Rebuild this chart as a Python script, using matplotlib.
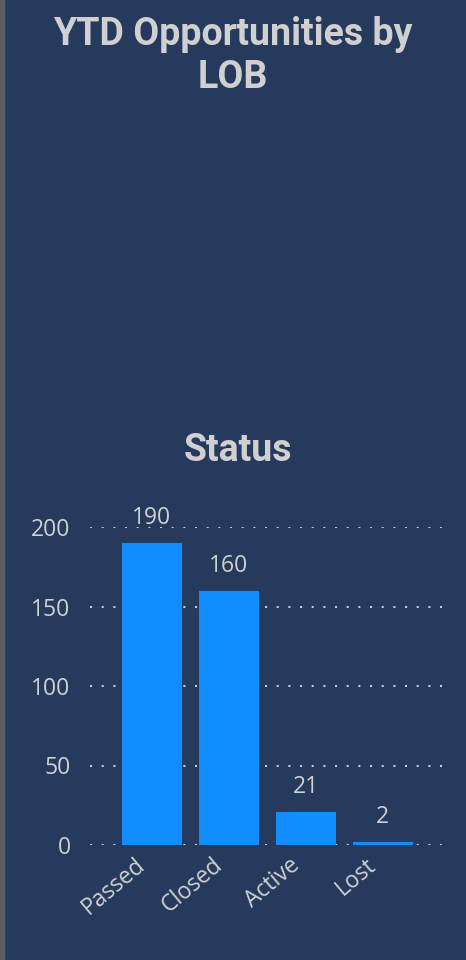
import matplotlib
matplotlib.use("Agg")
import matplotlib.pyplot as plt
import matplotlib.transforms as mtransforms

categories = ["Passed", "Closed", "Active", "Lost"]
values = [190, 160, 21, 2]
yticks = [0, 50, 100, 150, 200]

title = "YTD Opportunities by\nLOB"
subtitle = "Status"

BG = "#263a5e"
TXT = "#d0d0d0"
BAR = "#118DFF"

plt.rcParams['font.family'] = ['Segoe UI', 'Open Sans', 'DejaVu Sans']

fig = plt.figure(figsize=(4.66, 9.6), dpi=100)
fig.patch.set_facecolor(BG)

# left grey border strip
fig.add_artist(plt.Rectangle((0, 0), 4/466, 1, transform=fig.transFigure,
                             color="#5a5f66", zorder=0))

fig.text(0.5, 0.983, title, ha="center", va="top", fontsize=27,
         fontweight="bold", color=TXT, family=["Roboto", "DejaVu Sans"],
         linespacing=1.18)
fig.text(0.51, 0.531, subtitle, ha="center", va="center", fontsize=27,
         fontweight="bold", color=TXT, family=["Roboto", "DejaVu Sans"])

ax = fig.add_axes([90/466, 1 - 845/960, 352/466, 318/960])
ax.set_facecolor("none")
x = list(range(len(categories)))
bars = ax.bar(x, values, width=0.78, color=BAR, zorder=3)
ax.set_xlim(-0.805, 3.77)
ax.set_ylim(0, 200)
ax.set_yticks(yticks)
ax.set_yticklabels([str(v) for v in yticks])
ax.yaxis.grid(True, linestyle=(0, (1, 4.6)), linewidth=1.5, color="#c8c8c8", zorder=0)
ax.set_axisbelow(True)
for s in ax.spines.values():
    s.set_visible(False)
ax.tick_params(axis="y", length=0, pad=14, labelsize=16.5, labelcolor=TXT)
ax.tick_params(axis="x", length=0, pad=6, labelsize=16.5, labelcolor=TXT)
ax.set_xticks(x)
ax.set_xticklabels(categories, rotation=40, ha="right", rotation_mode="anchor")
offset = mtransforms.ScaledTranslation(-0.17, 0.0, fig.dpi_scale_trans)
for lbl in ax.get_xticklabels():
    lbl.set_transform(lbl.get_transform() + offset)
for b, v in zip(bars, values):
    ax.text(b.get_x() + b.get_width()/2, v + 8, str(v), ha="center", va="bottom",
            fontsize=16.5, color=TXT, clip_on=False)

fig.savefig("out.png", dpi=100, facecolor=BG)
